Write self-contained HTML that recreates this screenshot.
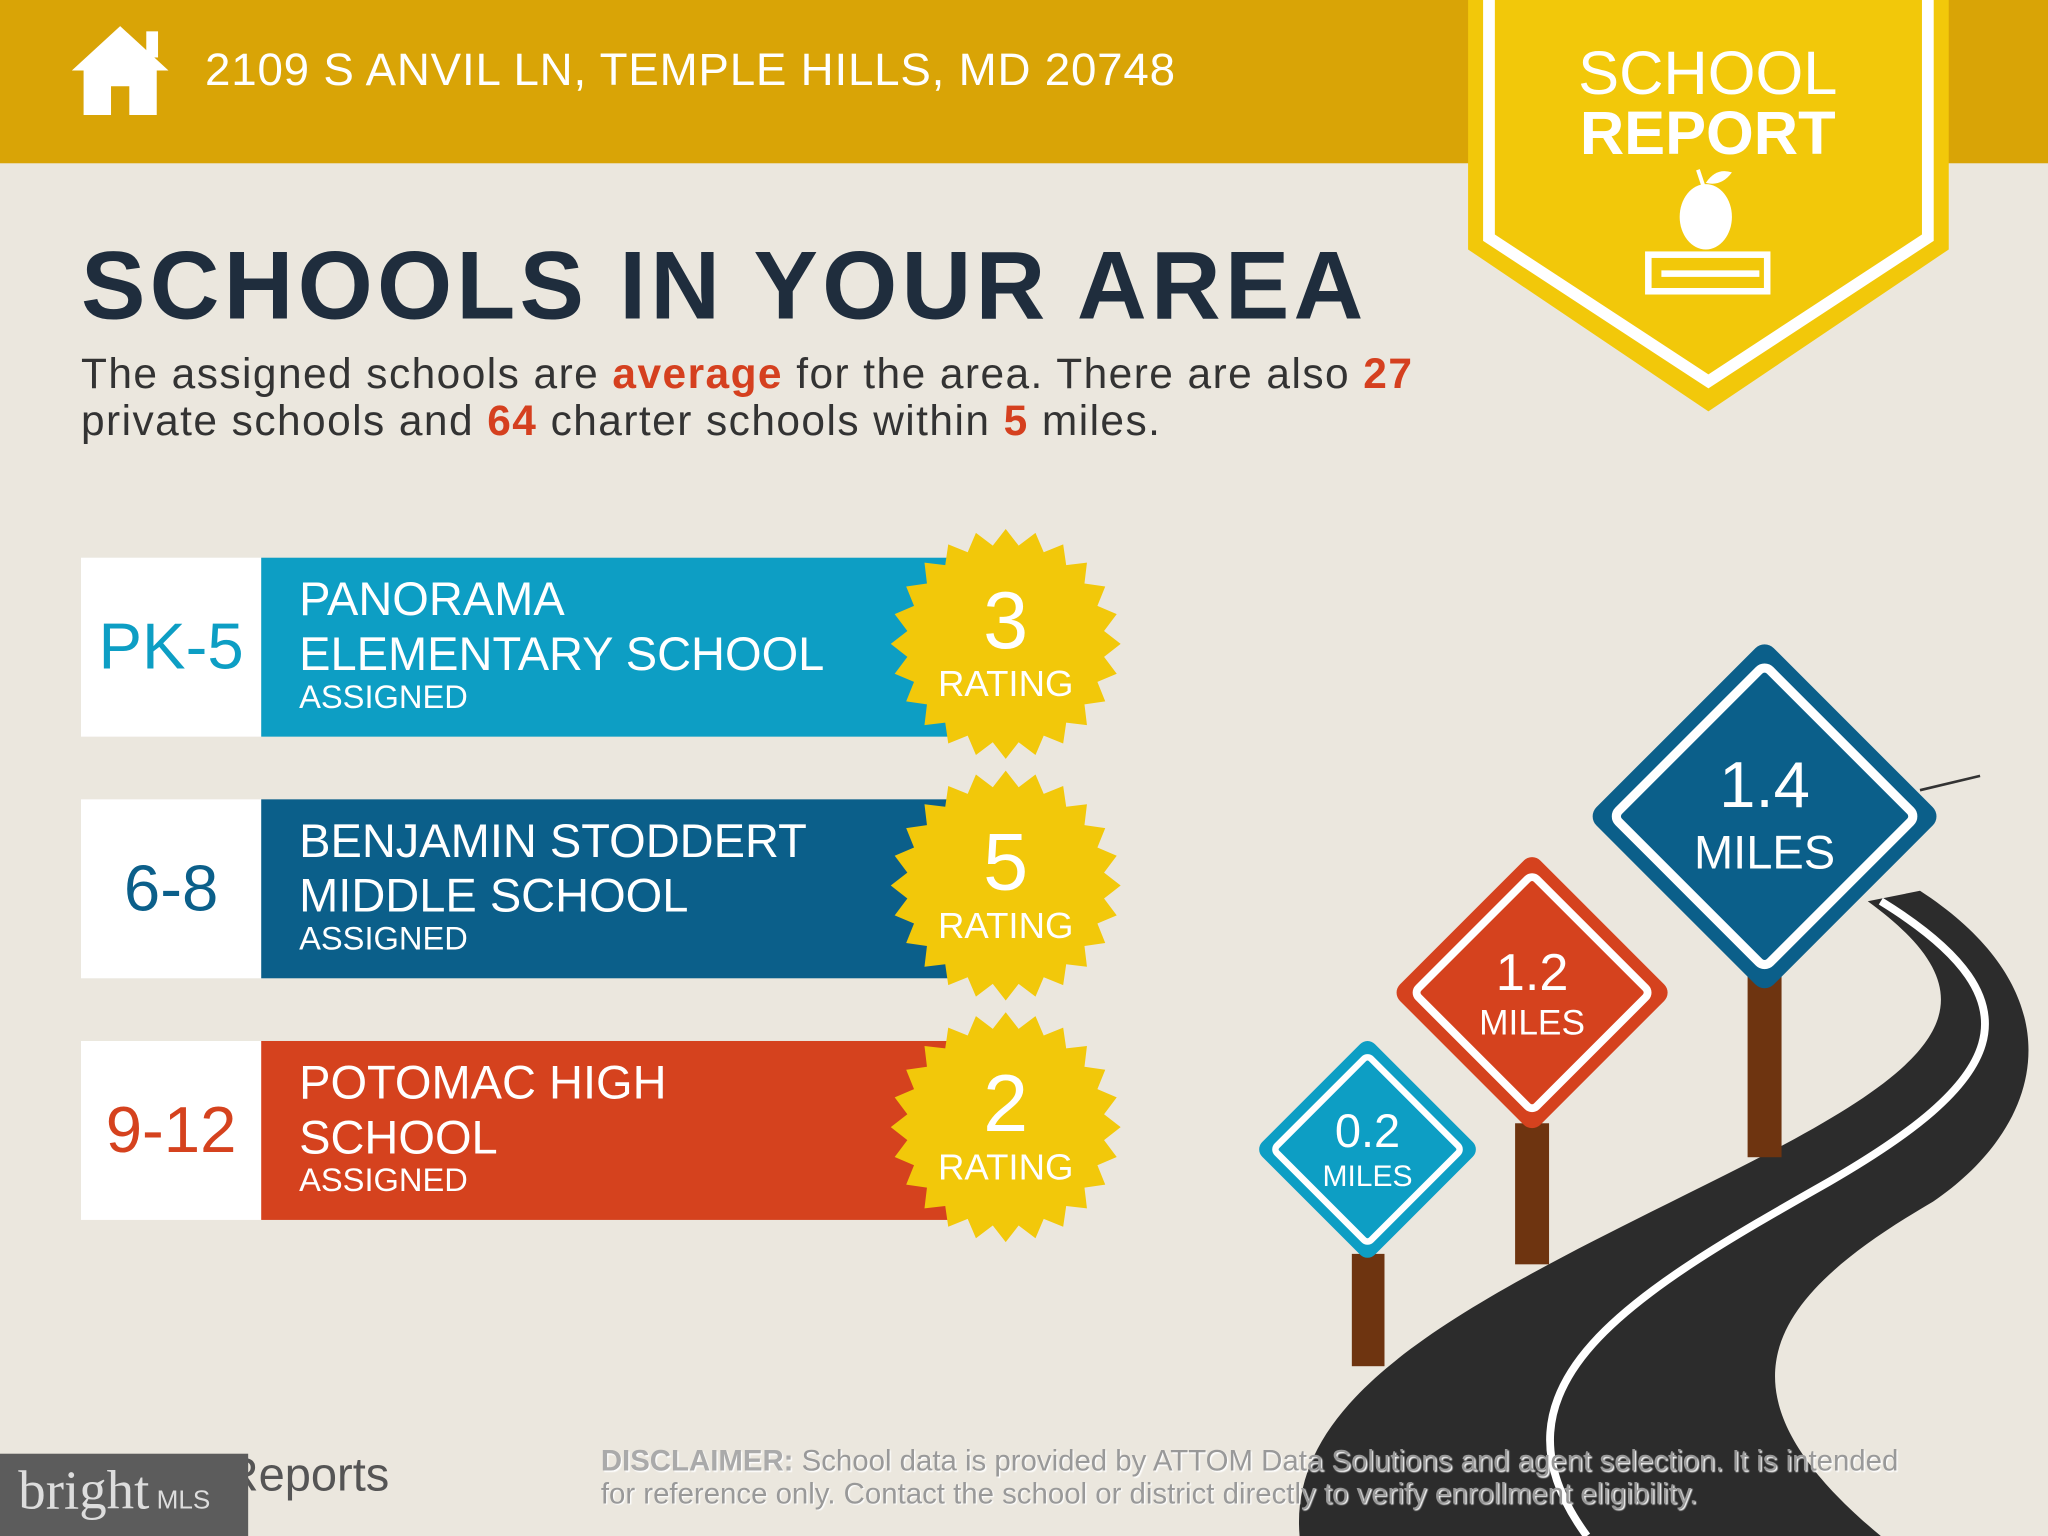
<!DOCTYPE html>
<html><head><meta charset="utf-8"><style>
html,body{margin:0;padding:0;width:2048px;height:1536px;overflow:hidden;background:#ebe7de}
#w{position:absolute;left:0;top:0;width:1568px;height:1176px;transform:scale(1.306122);transform-origin:0 0;font-family:"Liberation Sans",sans-serif;background:#ebe7de;overflow:hidden}
.a{position:absolute;white-space:nowrap}
.hdr{left:0;top:0;width:1568px;height:125px;background:#d9a406}
.grade{left:62px;width:138px;height:137px;background:#fff;text-align:center;line-height:137px;font-size:50px}
.bar{left:200px;width:530px;height:137px}
.nm{left:229px;color:#fff;font-size:36px;line-height:42px}
.as{display:block;font-size:25px;line-height:28px;margin-top:-2px}
.rt{width:180px;text-align:center;color:#fff}
</style></head><body><div id="w">
<div class="a hdr"></div>
<svg class="a" style="left:52px;top:16px" width="80" height="76" viewBox="0 0 80 76"><path d="M40 4 L3 38 L12 38 L12 72 L33 72 L33 50 L47 50 L47 72 L68 72 L68 38 L77 38 Z" fill="#fff"/><rect x="60" y="8" width="9" height="20" fill="#fff"/></svg>
<div class="a" style="left:157px;top:34px;color:#fff;font-size:35px;letter-spacing:0.6px">2109 S ANVIL LN, TEMPLE HILLS, MD 20748</div>

<svg class="a" style="left:0;top:0" width="1568" height="1176">
<polygon points="1124,0 1492,0 1492,191 1308,315 1124,191" fill="#f2c80a"/>
<polyline points="1140,0 1140,182 1308,292 1476,182 1476,0" fill="none" stroke="#fff" stroke-width="9"/>
<ellipse cx="1306" cy="166" rx="20" ry="25" fill="#fff"/>
<path d="M1304 142 L1300 130" stroke="#fff" stroke-width="3"/>
<path d="M1306 140 Q1314 128 1326 132 Q1318 143 1306 140Z" fill="#fff"/>
<rect x="1262" y="195" width="91" height="28" fill="none" stroke="#fff" stroke-width="5"/>
<rect x="1272" y="207" width="75" height="5" fill="#fff"/>
<!-- road -->
<path d="M995,1176 C985,1060 1140,990 1320,900 C1480,820 1540,770 1430,690 L1470,682 C1590,760 1568,860 1480,920 C1360,990 1300,1060 1440,1176 Z" fill="#2c2c2c"/>
<path d="M1215,1176 C1130,1060 1250,990 1400,905 C1530,830 1570,770 1440,690" fill="none" stroke="#fff" stroke-width="6"/>
<path d="M1470,605 L1516,594" stroke="#333" stroke-width="2"/>
<!-- posts -->
<rect x="1338" y="740" width="26" height="146" fill="#6e3410"/>
<rect x="1160" y="860" width="26" height="108" fill="#6e3410"/>
<rect x="1035" y="960" width="25" height="86" fill="#6e3410"/>
<!-- signs -->
<g transform="translate(1351,625) rotate(45)"><rect x="-96" y="-96" width="192" height="192" rx="10" fill="#0b5f8a"/><rect x="-82" y="-82" width="164" height="164" rx="6" fill="none" stroke="#fff" stroke-width="7"/></g>
<g transform="translate(1173,760) rotate(45)"><rect x="-76" y="-76" width="152" height="152" rx="9" fill="#d5421e"/><rect x="-64" y="-64" width="128" height="128" rx="5" fill="none" stroke="#fff" stroke-width="6"/></g>
<g transform="translate(1047,880) rotate(45)"><rect x="-61" y="-61" width="122" height="122" rx="8" fill="#0d9ec4"/><rect x="-51" y="-51" width="102" height="102" rx="4" fill="none" stroke="#fff" stroke-width="5"/></g>
<text x="1351" y="618" fill="#fff" font-size="50" text-anchor="middle" font-family="Liberation Sans">1.4</text>
<text x="1351" y="665" fill="#fff" font-size="36" text-anchor="middle" font-family="Liberation Sans">MILES</text>
<text x="1173" y="758" fill="#fff" font-size="40" text-anchor="middle" font-family="Liberation Sans">1.2</text>
<text x="1173" y="792" fill="#fff" font-size="27" text-anchor="middle" font-family="Liberation Sans">MILES</text>
<text x="1047" y="878" fill="#fff" font-size="36" text-anchor="middle" font-family="Liberation Sans">0.2</text>
<text x="1047" y="908" fill="#fff" font-size="23" text-anchor="middle" font-family="Liberation Sans">MILES</text>
</svg>

<div class="a" style="left:1200px;top:33px;width:215px;text-align:center;color:#fff;font-size:47px;line-height:46px">SCHOOL<br><b>REPORT</b></div>

<div class="a" style="left:62px;top:176px;color:#1f2d3d;font-size:74px;font-weight:bold;letter-spacing:3.2px">SCHOOLS IN YOUR AREA</div>
<div class="a" style="left:62px;top:268px;color:#333;font-size:32.5px;line-height:36px;letter-spacing:1.1px">The assigned schools are <b style="color:#d5401f">average</b> for the area. There are also <b style="color:#d5401f">27</b><br>private schools and <b style="color:#d5401f">64</b> charter schools within <b style="color:#d5401f">5</b> miles.</div>

<div class="a grade" style="top:427px;color:#0d9ec4">PK-5</div>
<div class="a bar" style="top:427px;background:#0d9ec4"></div>
<div class="a nm" style="top:438px">PANORAMA<br>ELEMENTARY SCHOOL<span class="as">ASSIGNED</span></div>
<div class="a grade" style="top:612px;color:#0b5f8a">6-8</div>
<div class="a bar" style="top:612px;background:#0b5f8a"></div>
<div class="a nm" style="top:623px">BENJAMIN STODDERT<br>MIDDLE SCHOOL<span class="as">ASSIGNED</span></div>
<div class="a grade" style="top:797px;color:#d5421e">9-12</div>
<div class="a bar" style="top:797px;background:#d5421e"></div>
<div class="a nm" style="top:808px">POTOMAC HIGH<br>SCHOOL<span class="as">ASSIGNED</span></div>

<svg class="a" style="left:680px;top:403px" width="180" height="560">
<g id="g" fill="#f2c80a"></g>
</svg>
<script>
(function(){var g=document.getElementById('g');var cs=[90,275,460];cs.forEach(function(cy){var p=[];var n=24;for(var i=0;i<n*2;i++){var r=i%2?76:88;var a=Math.PI*i/n;p.push((90+r*Math.cos(a)).toFixed(1)+','+(cy+r*Math.sin(a)).toFixed(1));}var e=document.createElementNS('http://www.w3.org/2000/svg','polygon');e.setAttribute('points',p.join(' '));g.appendChild(e);});})();
</script>
<div class="a rt" style="left:680px;top:440px;font-size:62px">3</div>
<div class="a rt" style="left:680px;top:508px;font-size:28px">RATING</div>
<div class="a rt" style="left:680px;top:625px;font-size:62px">5</div>
<div class="a rt" style="left:680px;top:693px;font-size:28px">RATING</div>
<div class="a rt" style="left:680px;top:810px;font-size:62px">2</div>
<div class="a rt" style="left:680px;top:878px;font-size:28px">RATING</div>

<div class="a" style="left:172px;top:1108px;color:#555;font-size:36px">Reports</div>
<div class="a" style="left:0;top:1113px;width:190px;height:63px;background:#5c5c5c"></div>
<div class="a" style="left:14px;top:1118px;color:#ddd;font-family:'Liberation Serif',serif;font-size:42px">bright<span style="font-family:'Liberation Sans',sans-serif;font-size:20px"> MLS</span></div>
<div class="a" style="left:460px;top:1106px;color:#999;font-size:22.5px;line-height:25px;letter-spacing:0px;text-shadow:1px 1px 1px #fff"><b style="color:#aaa">DISCLAIMER:</b> School data is provided by ATTOM Data Solutions and agent selection. It is intended<br>for reference only. Contact the school or district directly to verify enrollment eligibility.</div>
</div></body></html>
